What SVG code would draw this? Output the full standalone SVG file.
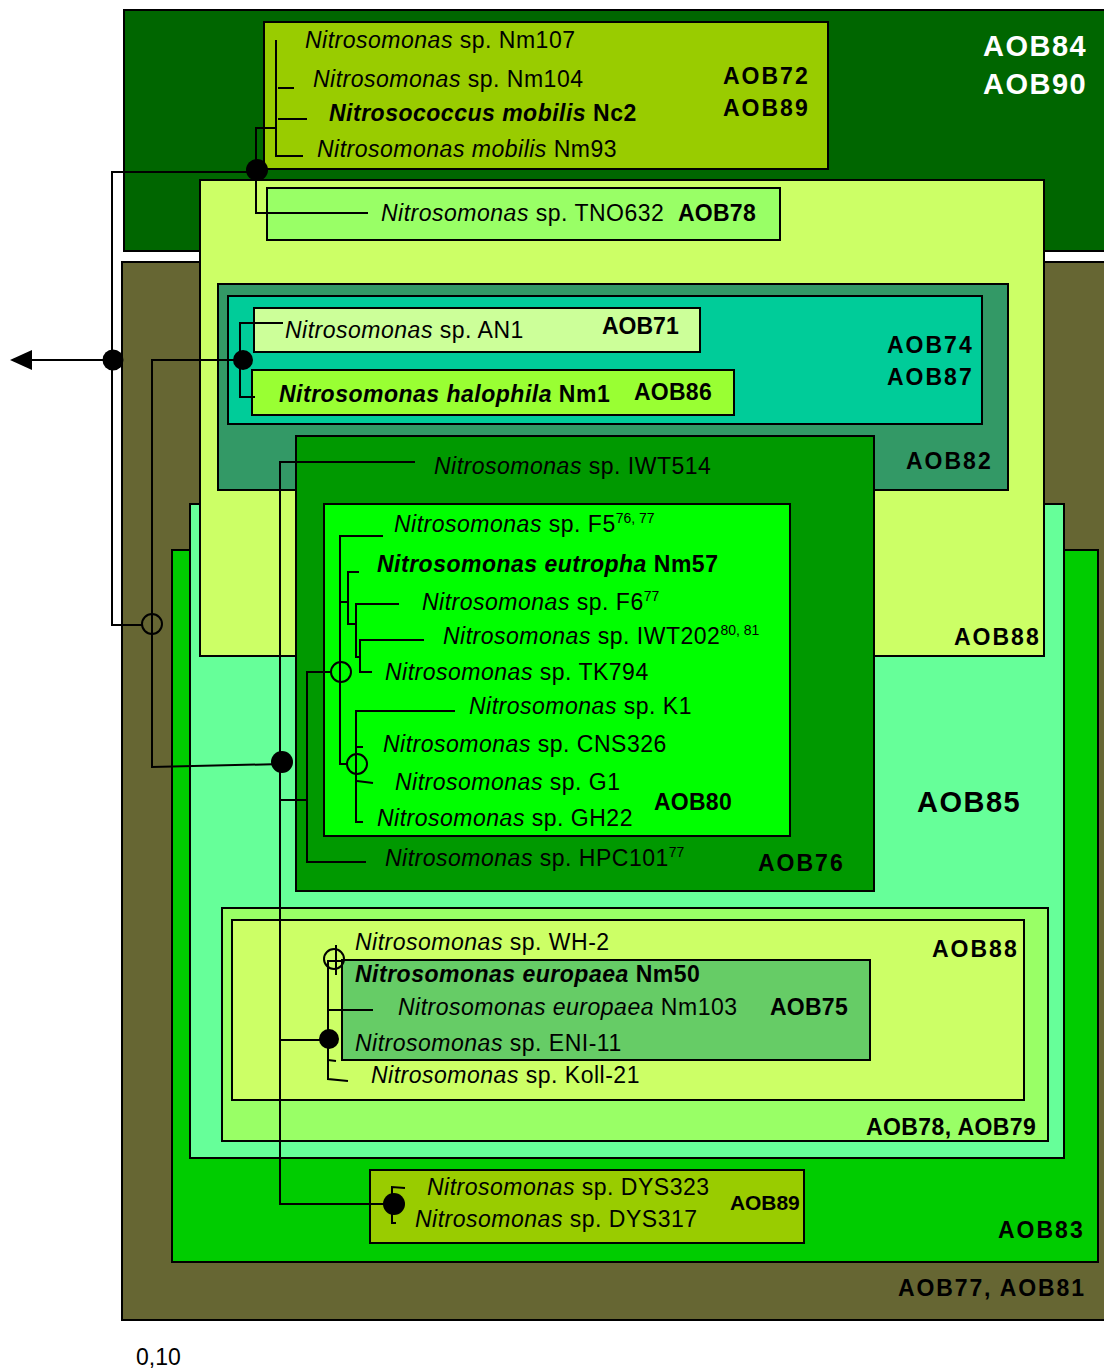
<svg xmlns="http://www.w3.org/2000/svg" width="1104" height="1371" viewBox="0 0 1104 1371">
<style>
.bx{stroke:#000;stroke-width:2}
.sp{font-family:"Liberation Sans",Arial,sans-serif;font-size:23px;letter-spacing:0.5px;fill:#000}
.i{font-style:italic}
.bd{font-weight:bold}
.lab{font-family:"Liberation Sans",Arial,sans-serif;font-size:23px;font-weight:bold;letter-spacing:2px;fill:#000}
.nar{letter-spacing:0.3px}
.big{font-family:"Liberation Sans",Arial,sans-serif;font-size:29px;font-weight:bold;letter-spacing:1.5px}
.sup{font-size:14px;letter-spacing:0}
.ln{stroke:#000;stroke-width:2;fill:none}
.oc{stroke:#000;stroke-width:2;fill:none}
</style>
<rect width="1104" height="1371" fill="#fff"/>

<g id="aob84">
<rect class="bx" x="124" y="10" width="990" height="241" fill="#006600"/>
<text class="big" x="983" y="56" fill="#fff">AOB84</text>
<text class="big" x="983" y="94" fill="#fff">AOB90</text>
</g>

<g id="aob77">
<rect class="bx" x="122" y="262" width="992" height="1058" fill="#666633"/>
<text class="lab" x="898" y="1296" textLength="188" lengthAdjust="spacing">AOB77, AOB81</text>
</g>

<g id="aob83">
<rect class="bx" x="172" y="550" width="926" height="712" fill="#00CC00"/>
<text class="lab" x="998" y="1238">AOB83</text>
</g>

<g id="aob85">
<rect class="bx" x="190" y="504" width="874" height="654" fill="#66FF99"/>
<text class="big" x="917" y="812" fill="#000">AOB85</text>
</g>

<g id="aob88a">
<rect class="bx" x="200" y="180" width="844" height="476" fill="#CCFF66"/>
<text class="lab" x="954" y="645">AOB88</text>
</g>

<g id="aob72">
<rect class="bx" x="264" y="22" width="564" height="147" fill="#99CC00"/>
<text class="sp" x="305" y="48"><tspan class="i">Nitrosomonas</tspan> sp. Nm107</text>
<text class="sp" x="313" y="87"><tspan class="i">Nitrosomonas</tspan> sp. Nm104</text>
<text class="sp bd" x="329" y="121"><tspan class="i">Nitrosococcus mobilis</tspan> Nc2</text>
<text class="sp" x="317" y="157"><tspan class="i">Nitrosomonas mobilis</tspan> Nm93</text>
<text class="lab" x="723" y="84">AOB72</text>
<text class="lab" x="723" y="116">AOB89</text>
</g>

<g id="tno632">
<rect class="bx" x="267" y="188" width="513" height="52" fill="#99FF66"/>
<text class="sp" x="381" y="221"><tspan class="i">Nitrosomonas</tspan> sp. TNO632 </text>
<text class="lab nar" x="678" y="221" textLength="78" lengthAdjust="spacing">AOB78</text>
</g>

<g id="aob82">
<rect class="bx" x="218" y="284" width="790" height="206" fill="#339966"/>
<text class="lab" x="906" y="469">AOB82</text>
</g>

<g id="aob74">
<rect class="bx" x="228" y="296" width="754" height="128" fill="#00CC99"/>
<text class="lab" x="887" y="353">AOB74</text>
<text class="lab" x="887" y="385">AOB87</text>
</g>

<g id="an1">
<rect class="bx" x="254" y="308" width="446" height="44" fill="#CCFF99"/>
<text class="sp" x="285" y="338"><tspan class="i">Nitrosomonas</tspan> sp. AN1</text>
<text class="lab nar" x="602" y="334" textLength="77" lengthAdjust="spacing">AOB71</text>
</g>

<g id="halophila">
<rect class="bx" x="252" y="370" width="482" height="45" fill="#99FF33"/>
<text class="sp bd" x="279" y="402"><tspan class="i">Nitrosomonas halophila</tspan> Nm1</text>
<text class="lab nar" x="634" y="400" textLength="78" lengthAdjust="spacing">AOB86</text>
</g>

<g id="aob76">
<rect class="bx" x="296" y="436" width="578" height="455" fill="#009900"/>
<text class="sp" x="434" y="474"><tspan class="i">Nitrosomonas</tspan> sp. IWT514</text>
<text class="sp" x="385" y="866"><tspan class="i">Nitrosomonas</tspan> sp. HPC101<tspan class="sup" dy="-9">77</tspan></text>
<text class="lab" x="758" y="871">AOB76</text>
</g>

<g id="aob80">
<rect class="bx" x="324" y="504" width="466" height="332" fill="#00FF00"/>
<text class="sp" x="394" y="532"><tspan class="i">Nitrosomonas</tspan> sp. F5<tspan class="sup" dy="-9">76, 77</tspan></text>
<text class="sp bd" x="377" y="572"><tspan class="i">Nitrosomonas eutropha</tspan> Nm57</text>
<text class="sp" x="422" y="610"><tspan class="i">Nitrosomonas</tspan> sp. F6<tspan class="sup" dy="-9">77</tspan></text>
<text class="sp" x="443" y="644"><tspan class="i">Nitrosomonas</tspan> sp. IWT202<tspan class="sup" dy="-9">80, 81</tspan></text>
<text class="sp" x="385" y="680"><tspan class="i">Nitrosomonas</tspan> sp. TK794</text>
<text class="sp" x="469" y="714"><tspan class="i">Nitrosomonas</tspan> sp. K1</text>
<text class="sp" x="383" y="752"><tspan class="i">Nitrosomonas</tspan> sp. CNS326</text>
<text class="sp" x="395" y="790"><tspan class="i">Nitrosomonas</tspan> sp. G1</text>
<text class="sp" x="377" y="826"><tspan class="i">Nitrosomonas</tspan> sp. GH22</text>
<text class="lab nar" x="654" y="810" textLength="78" lengthAdjust="spacing">AOB80</text>
</g>

<g id="aob78b">
<rect class="bx" x="222" y="908" width="826" height="233" fill="#99FF66"/>
<text class="lab nar" x="866" y="1135" textLength="170" lengthAdjust="spacing">AOB78, AOB79</text>
</g>

<g id="aob88b">
<rect class="bx" x="232" y="920" width="792" height="180" fill="#CCFF66"/>
<text class="sp" x="355" y="950"><tspan class="i">Nitrosomonas</tspan> sp. WH-2</text>
<text class="lab" x="932" y="957">AOB88</text>
<text class="sp" x="371" y="1083"><tspan class="i">Nitrosomonas</tspan> sp. Koll-21</text>
</g>

<g id="aob75">
<rect class="bx" x="342" y="960" width="528" height="100" fill="#66CC66"/>
<text class="sp bd" x="355" y="982"><tspan class="i">Nitrosomonas europaea</tspan> Nm50</text>
<text class="sp" x="398" y="1015"><tspan class="i">Nitrosomonas europaea</tspan> Nm103</text>
<text class="lab nar" x="770" y="1015" textLength="78" lengthAdjust="spacing">AOB75</text>
<text class="sp" x="355" y="1051"><tspan class="i">Nitrosomonas</tspan> sp. ENI-11</text>
</g>

<g id="aob89b">
<rect class="bx" x="370" y="1170" width="434" height="73" fill="#99CC00"/>
<text class="sp" x="427" y="1195"><tspan class="i">Nitrosomonas</tspan> sp. DYS323</text>
<text class="sp" x="415" y="1227"><tspan class="i">Nitrosomonas</tspan> sp. DYS317</text>
<text class="lab" x="730" y="1210" style="font-size:21px;letter-spacing:0.3px" textLength="70" lengthAdjust="spacing">AOB89</text>
</g>

<g id="scale">
<text class="sp" x="136" y="1365" style="letter-spacing:0">0,10</text>
</g>

<g id="connectors">
<polygon points="10,360 32,350 32,370" fill="#000"/>
<line class="ln" x1="30" y1="360" x2="113" y2="360"/>
<circle cx="113" cy="360" r="10.5" fill="#000"/>
<polyline class="ln" points="257,172 112,172 112,625 142,625"/>
<circle cx="257" cy="170" r="11" fill="#000"/>
<polyline class="ln" points="276,128 256,128 256,213 368,213"/>
<polyline class="ln" points="276,40 276,156 303,156"/>
<line class="ln" x1="278" y1="88" x2="294" y2="88"/>
<line class="ln" x1="278" y1="119" x2="307" y2="119"/>
<circle class="oc" cx="152" cy="624" r="10"/>
<polyline class="ln" points="243,360 152,360 152,767 282,764"/>
<polyline class="ln" points="283,323 240,323 240,397 255,397"/>
<circle cx="243" cy="360" r="10" fill="#000"/>
<polyline class="ln" points="415,462 280,462 280,1204 393,1204"/>
<circle cx="282" cy="762" r="11" fill="#000"/>
<polyline class="ln" points="281,800 307,800"/>
<polyline class="ln" points="331,672 307,672 307,862 366,862"/>
<circle class="oc" cx="341" cy="672" r="10"/>
<polyline class="ln" points="383,536 340,536 340,764 347,764"/>
<line class="ln" x1="340" y1="602" x2="348" y2="602"/>
<polyline class="ln" points="359,572 348,572 348,624 356,624"/>
<polyline class="ln" points="399,604 356,604 356,657 360,657"/>
<polyline class="ln" points="424,640 360,640 360,672 372,672"/>
<circle class="oc" cx="357" cy="764" r="10"/>
<polyline class="ln" points="455,711 356,711 356,822 363,822"/>
<line class="ln" x1="356" y1="747" x2="363" y2="747"/>
<line class="ln" x1="357" y1="781" x2="373" y2="783"/>
<circle class="oc" cx="334" cy="959" r="10"/>
<line class="ln" x1="336" y1="945" x2="336" y2="975"/>
<polyline class="ln" points="342,961 328,961 328,1079 348,1081"/>
<line class="ln" x1="328" y1="1010" x2="373" y2="1010"/>
<line class="ln" x1="328" y1="1060" x2="336" y2="1061"/>
<line class="ln" x1="281" y1="1040" x2="329" y2="1040"/>
<circle cx="329" cy="1039" r="10" fill="#000"/>
<polyline class="ln" points="405,1188 392,1187 392,1223 396,1223"/>
<circle cx="394" cy="1204" r="11" fill="#000"/>
</g>
</svg>
